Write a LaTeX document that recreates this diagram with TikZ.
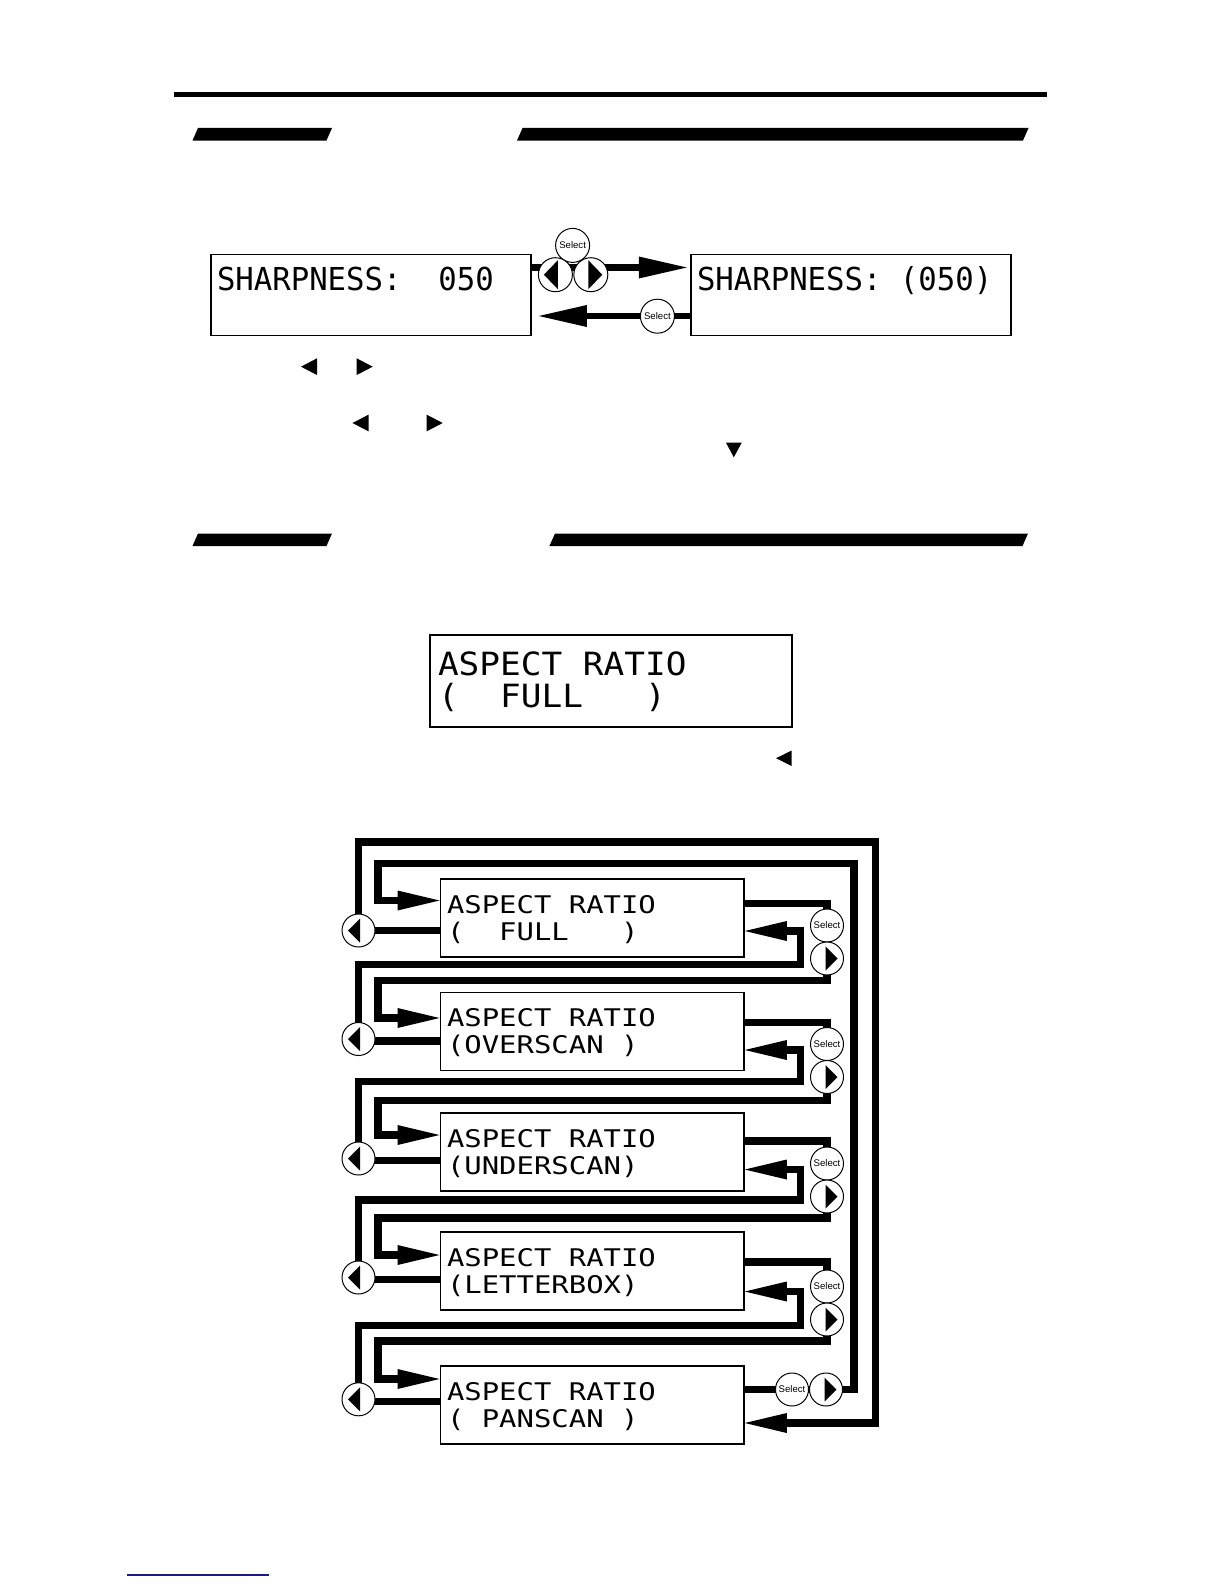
\documentclass[tikz,border=0pt]{standalone}
\usepackage{fontspec}
\usetikzlibrary{arrows.meta}
\newfontfamily\lcdA[FakeStretch=0.97]{DejaVu Sans Mono}
\newfontfamily\lcdB[FakeStretch=1.075]{DejaVu Sans Mono}
\newfontfamily\lcdC[FakeStretch=1.19]{DejaVu Sans Mono}
\newfontfamily\btnfont{Liberation Sans}
\definecolor{navyline}{RGB}{25,25,140}
\tikzset{
  conn/.style={line width=3.75pt, line join=miter, line cap=butt},
  sconn/.style={line width=3.25pt, line join=miter, line cap=butt},
  ftip/.style={-{Triangle[length=21pt,width=10pt,line width=0pt]}},
  stip/.style={-{Triangle[length=24pt,width=11pt,line width=0pt]}},
  lcdbox/.style={draw, rectangle, line width=0.9pt, inner sep=0pt, anchor=north west,
                 minimum width=151.75pt, minimum height=39pt},
  sbox/.style={draw, rectangle, line width=0.9pt, inner sep=0pt, anchor=north west,
                 minimum width=160pt, minimum height=40.5pt},
  lcdtxt/.style={anchor=base west, inner sep=0pt, outer sep=0pt},
  btn/.style={circle, draw, fill=white, line width=0.5pt, inner sep=0pt, minimum size=16.5pt},
  bigbtn/.style={minimum size=17pt},
  selbtn/.style={btn, font=\btnfont\fontsize{4.8}{5}\selectfont},
  lbtn/.style={btn, path picture={\fill[black]
      ([xshift=-5.25pt]path picture bounding box.center) --
      ([xshift=0.75pt,yshift=6pt]path picture bounding box.center) --
      ([xshift=0.75pt,yshift=-6pt]path picture bounding box.center) -- cycle;}},
  rbtn/.style={btn, path picture={\fill[black]
      ([xshift=5.25pt]path picture bounding box.center) --
      ([xshift=-0.75pt,yshift=6pt]path picture bounding box.center) --
      ([xshift=-0.75pt,yshift=-6pt]path picture bounding box.center) -- cycle;}},
  biglbtn/.style={btn, bigbtn, path picture={\fill[black]
      ([xshift=-5.75pt]path picture bounding box.center) --
      ([xshift=1.25pt,yshift=7.25pt]path picture bounding box.center) --
      ([xshift=1.25pt,yshift=-7.25pt]path picture bounding box.center) -- cycle;}},
  bigrbtn/.style={btn, bigbtn, path picture={\fill[black]
      ([xshift=5.75pt]path picture bounding box.center) --
      ([xshift=-1.25pt,yshift=7.25pt]path picture bounding box.center) --
      ([xshift=-1.25pt,yshift=-7.25pt]path picture bounding box.center) -- cycle;}},
  hbar/.style={fill=black}
}
\begin{document}
\begin{tikzpicture}[x=0.5pt,y=-0.5pt]
\useasboundingbox (0,0) rectangle (1224,1584);
\fill[white] (0,0) rectangle (1224,1584);

% top rule and section header bars
\fill[hbar] (173.7,92) rectangle (1047.3,97);
\fill[hbar] (192.5,140.5) -- (198,128) -- (332,128) -- (326.5,140.5) -- cycle;
\fill[hbar] (517,140.5) -- (522.5,128) -- (1028.5,128) -- (1023,140.5) -- cycle;
\fill[hbar] (192.5,546) -- (198,533.5) -- (332,533.5) -- (326.5,546) -- cycle;
\fill[hbar] (549.4,546) -- (555,533.5) -- (1028,533.5) -- (1022.5,546) -- cycle;

% ---------- Sharpness ----------
\node[sbox] (sA) at (210,253.5) {};
\node[sbox] (sB) at (689.8,253.5) {};
\node[lcdtxt, font=\lcdA\fontsize{15.8}{18}\selectfont] (sAt) at (217,290.8) {SHARPNESS:~~050};
\node[lcdtxt, font=\lcdA\fontsize{15.8}{18}\selectfont] (sBt) at (697,290.8) {SHARPNESS:~(050)};
\draw[sconn,stip,shorten >=1.5pt] ([yshift=-7pt]sA.north east) -- ([yshift=-7pt]sB.north west);
\draw[sconn,stip,shorten >=3.5pt] ([yshift=-31.25pt]sB.north west) -- ([yshift=-31.25pt]sA.north east);
\node[selbtn,bigbtn] (sS1) at (572.6,245.4) {Select};
\node[biglbtn] (sL) at (555.4,274.7) {};
\node[bigrbtn] (sR) at (590.8,274.7) {};
\node[selbtn,bigbtn] (sS2) at (657.4,316.2) {Select};

% small glyph triangles
\fill (301,366.7) -- (317,358.3) -- (317,375) -- cycle;
\fill (372.7,366.7) -- (356.7,358.3) -- (356.7,375) -- cycle;
\fill (352.5,423) -- (368.5,414.7) -- (368.5,431.3) -- cycle;
\fill (442.7,423) -- (426.7,414.7) -- (426.7,431.3) -- cycle;
\fill (726,442.7) -- (741.7,442.7) -- (733.8,457.3) -- cycle;

% ---------- Aspect ratio ----------
\node[draw, rectangle, line width=0.9pt, inner sep=0pt, anchor=north west,
      minimum width=180.7pt, minimum height=45.85pt] (ar) at (429.3,634.3) {};
\node[lcdtxt, font=\lcdB\fontsize{16}{18}\selectfont] (art1) at (438,675) {ASPECT RATIO};
\node[lcdtxt, font=\lcdB\fontsize{16}{18}\selectfont] (art2) at (438,707) {(~~FULL~~~)};
\fill (776,758.2) -- (791.7,750.5) -- (791.7,766) -- cycle;

% ---------- Flow ----------
\node[lcdbox] (b1) at (439.5,878) {};
\node[lcdbox] (b2) at (439.5,991.5) {};
\node[lcdbox] (b3) at (439.5,1112) {};
\node[lcdbox] (b4) at (439.5,1231) {};
\node[lcdbox] (b5) at (439.5,1365) {};
\begin{scope}[every node/.style={lcdtxt, font=\lcdC\fontsize{12.15}{14}\selectfont}]
\node (b1a) at (447,913) {ASPECT RATIO};
\node (b1b) at (447,940) {(~~FULL~~~)};
\node (b2a) at (447,1026.5) {ASPECT RATIO};
\node (b2b) at (447,1053.5) {(OVERSCAN~)};
\node (b3a) at (447,1147) {ASPECT RATIO};
\node (b3b) at (447,1174) {(UNDERSCAN)};
\node (b4a) at (447,1266) {ASPECT RATIO};
\node (b4b) at (447,1293) {(LETTERBOX)};
\node (b5a) at (447,1400) {ASPECT RATIO};
\node (b5b) at (447,1427) {(~PANSCAN~)};
\end{scope}

% outer loop: FULL --left--> PANSCAN
\draw[conn,ftip] ([yshift=-26.25pt]b1.north west) -| (358.5,842) -| (875.7,1423) -- ([yshift=-29pt]b5.north east);
% inner loop: PANSCAN --right--> FULL
\draw[conn,ftip] ([yshift=-12.25pt]b5.north east) -| (854,863.5) -| (378,900.5) -- ([yshift=-11.25pt]b1.north west);

% right (next) transitions
\draw[conn,ftip] ([yshift=-12.75pt]b1.north east) -| (827,980.5) -| (378,1018) -- ([yshift=-13.25pt]b2.north west);
\draw[conn,ftip] ([yshift=-15.5pt]b2.north east) -| (827,1100.5) -| (378,1135) -- ([yshift=-11.5pt]b3.north west);
\draw[conn,ftip] ([yshift=-14.5pt]b3.north east) -| (827,1218) -| (378,1255) -- ([yshift=-12pt]b4.north west);
\draw[conn,ftip] ([yshift=-15.5pt]b4.north east) -| (827,1341) -| (378,1379) -- ([yshift=-7pt]b5.north west);

% left (previous) transitions
\draw[conn,ftip] ([yshift=-24.75pt]b2.north west) -| (358.5,964.5) -| (800.5,931) -- ([yshift=-26.5pt]b1.north east);
\draw[conn,ftip] ([yshift=-24.25pt]b3.north west) -| (358.5,1081.5) -| (800.5,1050) -- ([yshift=-29.25pt]b2.north east);
\draw[conn,ftip] ([yshift=-24.25pt]b4.north west) -| (358.5,1200) -| (800.5,1169.5) -- ([yshift=-28.75pt]b3.north east);
\draw[conn,ftip] ([yshift=-18.25pt]b5.north west) -| (358.5,1325.5) -| (800.5,1291.5) -- ([yshift=-30.25pt]b4.north east);

% buttons
\node[lbtn] (L1) at (358.5,930.5) {};
\node[lbtn] (L2) at (358.5,1039) {};
\node[lbtn] (L3) at (358.5,1158.5) {};
\node[lbtn] (L4) at (358.5,1277.5) {};
\node[lbtn] (L5) at (358.5,1399.3) {};
\node[selbtn] (S1) at (827,925.5) {Select};
\node[rbtn] (P1) at (827,958.5) {};
\node[selbtn] (S2) at (827,1044) {Select};
\node[rbtn] (P2) at (827,1077) {};
\node[selbtn] (S3) at (827,1163.5) {Select};
\node[rbtn] (P3) at (827,1196.5) {};
\node[selbtn] (S4) at (827,1286.5) {Select};
\node[rbtn] (P4) at (827,1319.5) {};
\node[selbtn] (S5) at (792,1389.5) {Select};
\node[rbtn] (P5) at (826,1389.5) {};

% footnote rule
\draw[navyline, line width=1pt] (127,1575) -- (269,1575);
\end{tikzpicture}
\end{document}
